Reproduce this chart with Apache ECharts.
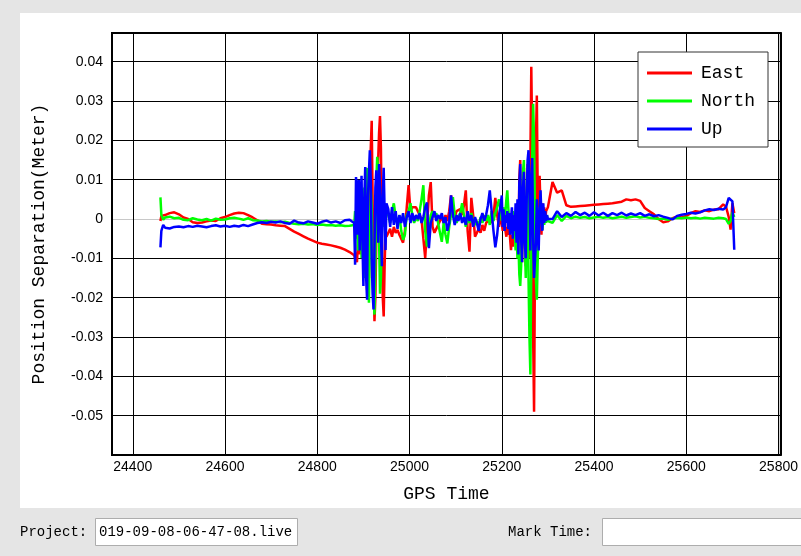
<!DOCTYPE html>
<html>
<head>
<meta charset="utf-8">
<script src="https://cdn.jsdelivr.net/npm/echarts@6/dist/echarts.min.js"></script>
<style>
html, body { margin: 0; padding: 0; background: #e5e5e5; }
#main { width: 801px; height: 556px; }
</style>
</head>
<body>
<div id="main"></div>
<script>
// GPS time of each sample (shared by the three components)
var gpsTime = [
  24460, 24462, 24466, 24470, 24480, 24490, 24500, 24510, 24520, 24530, 24540, 24550, 24560, 24570,
  24580, 24590, 24600, 24610, 24620, 24630, 24640, 24650, 24660, 24670,
  24680, 24690, 24700, 24710, 24720, 24730, 24740, 24750, 24760, 24770,
  24780, 24790, 24800, 24810, 24820, 24830, 24840, 24850, 24860, 24870,
  24880, 24882, 24884, 24886, 24888, 24890, 24892, 24894, 24896, 24898, 24900, 24902,
  24904, 24906, 24908, 24910, 24912, 24914, 24916, 24918, 24920, 24922, 24924, 24926,
  24928, 24930, 24932, 24934, 24936, 24938, 24940, 24942, 24944, 24946, 24948, 24950,
  24954, 24958, 24962, 24966, 24970, 24974, 24978, 24982, 24986, 24990, 24994, 24998,
  25002, 25006, 25010, 25014, 25018, 25022, 25026, 25030, 25034, 25038, 25042, 25046, 25050,
  25054, 25058, 25062, 25066, 25070, 25074, 25078, 25082, 25086, 25090, 25094, 25098,
  25102, 25106, 25110, 25114, 25118, 25122, 25126, 25130, 25134, 25138, 25142, 25146, 25150,
  25154, 25158, 25162, 25166, 25170, 25174, 25178, 25182, 25186, 25190, 25194, 25198,
  25200, 25202, 25204, 25206, 25208, 25210, 25212, 25214, 25216, 25218,
  25220, 25222, 25224, 25226, 25228, 25230, 25232, 25234, 25236, 25238,
  25240, 25242, 25244, 25246, 25248, 25250, 25252, 25254, 25256, 25258,
  25260, 25262, 25264, 25266, 25268, 25270, 25272, 25274, 25276, 25278,
  25280, 25282, 25284, 25286, 25288, 25290, 25292, 25294, 25296, 25298,
  25300,
  25310, 25320, 25330, 25340, 25350, 25360, 25370, 25380, 25390, 25400,
  25410, 25420, 25430, 25440, 25450, 25460, 25470, 25480, 25490, 25500,
  25510, 25520, 25530, 25540, 25550, 25560, 25570, 25580, 25590, 25600,
  25610, 25620, 25630, 25640, 25650, 25660, 25670, 25680,
  25686, 25692, 25696, 25700, 25704
];

var east = [
  -0.0005, 0.0008, 0.0012, 0.0010, 0.0015, 0.0017, 0.0012, 0.0004, 0.0000, -0.0008, -0.0010, -0.0009, -0.0006, -0.0004,
  -0.0005, 0.0002, 0.0005, 0.0010, 0.0014, 0.0016, 0.0015, 0.0010, 0.0004, -0.0003,
  -0.0012, -0.0013, -0.0014, -0.0016, -0.0017, -0.0018, -0.0025, -0.0032, -0.0038, -0.0044,
  -0.0050, -0.0055, -0.0060, -0.0063, -0.0065, -0.0067, -0.0070, -0.0073, -0.0078, -0.0084,
  -0.0092, -0.0100, -0.0085, -0.0110, -0.0070, -0.0040, -0.0090, 0.0020, -0.0060, 0.0060, -0.0080, 0.0050,
  -0.0120, 0.0080, -0.0180, 0.0100, -0.0150, 0.0120, 0.0180, 0.0250, 0.0050, -0.0150, -0.0260, -0.0200,
  -0.0050, 0.0080, 0.0150, 0.0220, 0.0262, 0.0180, -0.0050, -0.0200, -0.0248, -0.0120, -0.0030, -0.0045,
  -0.0035, -0.0025, -0.0045, -0.0020, -0.0035, -0.0028, -0.0040, -0.0050, -0.0060, -0.0030, 0.0030, 0.0086,
  0.0020, 0.0030, 0.0025, 0.0030, 0.0020, 0.0025, 0.0000, -0.0050, -0.0099, -0.0020, 0.0060, 0.0094, -0.0020,
  -0.0035, -0.0025, -0.0015, -0.0005, 0.0005, -0.0010, 0.0010, -0.0005, 0.0020, 0.0060, 0.0030, 0.0005,
  0.0020, 0.0015, 0.0025, 0.0010, 0.0035, 0.0073, -0.0030, -0.0083, 0.0054, 0.0010, -0.0045, -0.0040, -0.0025,
  -0.0035, -0.0015, -0.0030, -0.0010, -0.0005, 0.0000, -0.0010, 0.0010, 0.0054, 0.0010, -0.0020, 0.0015,
  0.0010, -0.0030, -0.0020, 0.0010, -0.0030, -0.0045, -0.0020, -0.0040, -0.0010, -0.0050,
  -0.0079, -0.0040, -0.0070, -0.0030, -0.0060, -0.0020, -0.0050, 0.0040, -0.0080, 0.0100,
  0.0150, -0.0060, -0.0110, 0.0050, 0.0130, -0.0050, -0.0120, 0.0020, 0.0140, 0.0080,
  -0.0100, 0.0150, 0.0387, 0.0200, -0.0300, -0.0490, -0.0100, 0.0200, 0.0314, 0.0050,
  -0.0050, 0.0110, 0.0030, -0.0040, 0.0040, 0.0010, 0.0030, -0.0010, 0.0020, 0.0015,
  0.0030,
  0.0094, 0.0067, 0.0073, 0.0035, 0.0031, 0.0032, 0.0033, 0.0034, 0.0035, 0.0036,
  0.0037, 0.0038, 0.0039, 0.0040, 0.0042, 0.0044, 0.0050, 0.0048, 0.0050, 0.0046,
  0.0028, 0.0020, 0.0012, 0.0000, -0.0008, -0.0006, 0.0002, 0.0006, 0.0004, 0.0008,
  0.0015, 0.0020, 0.0018, 0.0022, 0.0020, 0.0024, 0.0025, 0.0037,
  0.0032, 0.0005, -0.0027, 0.0040, 0.0015
];

var north = [
  0.0055, 0.0010, -0.0002, 0.0004, 0.0006, 0.0002, 0.0003, -0.0002, -0.0003, 0.0002, -0.0001, -0.0003, 0.0000, -0.0004,
  0.0001, -0.0002, -0.0001, 0.0002, 0.0003, 0.0001, -0.0002, 0.0002, -0.0003, -0.0004,
  -0.0006, -0.0005, -0.0007, -0.0006, -0.0008, -0.0007, -0.0010, -0.0012, -0.0013, -0.0012,
  -0.0014, -0.0013, -0.0015, -0.0014, -0.0016, -0.0015, -0.0017, -0.0016, -0.0018, -0.0017,
  -0.0015, 0.0020, -0.0050, 0.0040, -0.0080, 0.0060, -0.0030, 0.0070, -0.0100, 0.0050, -0.0120, 0.0080,
  -0.0150, 0.0100, 0.0130, -0.0100, -0.0213, -0.0050, 0.0080, 0.0030, -0.0150, -0.0200, -0.0243, -0.0100,
  0.0100, 0.0158, 0.0120, -0.0050, -0.0190, -0.0150, 0.0000, 0.0060, -0.0020, 0.0040, 0.0000, 0.0025,
  0.0010, -0.0010, 0.0020, 0.0040, 0.0005, -0.0015, 0.0010, -0.0030, -0.0053, -0.0040, 0.0010, 0.0020,
  0.0040, 0.0010, -0.0010, 0.0005, -0.0005, 0.0020, 0.0050, 0.0086, -0.0030, -0.0070, -0.0020, 0.0010, 0.0020,
  0.0005, 0.0015, -0.0010, -0.0035, -0.0058, -0.0010, -0.0040, -0.0062, -0.0020, 0.0010, 0.0056, 0.0010,
  -0.0010, 0.0005, 0.0015, 0.0040, 0.0010, -0.0020, 0.0005, -0.0010, 0.0015, -0.0005, -0.0015, -0.0005, -0.0020,
  0.0005, -0.0010, 0.0010, -0.0005, 0.0010, -0.0015, 0.0020, -0.0005, 0.0015, 0.0030, 0.0050, 0.0020,
  -0.0005, 0.0010, 0.0030, -0.0010, 0.0020, 0.0050, 0.0073, 0.0030, 0.0000, -0.0020,
  0.0010, -0.0030, 0.0020, -0.0050, -0.0020, -0.0080, -0.0040, -0.0100, -0.0060, -0.0140,
  -0.0170, -0.0120, 0.0040, 0.0120, 0.0150, -0.0060, -0.0150, 0.0020, 0.0100, -0.0150,
  -0.0300, -0.0395, -0.0100, 0.0150, 0.0293, 0.0200, 0.0000, -0.0150, -0.0205, -0.0100,
  -0.0020, 0.0030, -0.0010, 0.0020, -0.0028, 0.0010, -0.0015, 0.0005, -0.0010, 0.0010,
  -0.0005,
  -0.0010, 0.0010, -0.0005, 0.0008, 0.0002, 0.0006, 0.0003, 0.0005, 0.0002, 0.0004,
  0.0006, 0.0003, 0.0005, 0.0002, 0.0004, 0.0006, 0.0003, 0.0005, 0.0007, 0.0004,
  0.0006, 0.0003, 0.0002, 0.0000, 0.0001, -0.0002, 0.0001, 0.0003, 0.0002, 0.0004,
  0.0002, 0.0003, 0.0001, 0.0003, 0.0002, 0.0001, 0.0003, 0.0002,
  0.0000, -0.0012, -0.0005, 0.0017, 0.0005
];

var up = [
  -0.0072, -0.0030, -0.0015, -0.0022, -0.0024, -0.0020, -0.0019, -0.0021, -0.0018, -0.0020, -0.0017, -0.0019, -0.0021, -0.0018,
  -0.0016, -0.0019, -0.0017, -0.0020, -0.0017, -0.0019, -0.0015, -0.0018, -0.0014, -0.0010,
  -0.0008, -0.0010, -0.0007, -0.0009, -0.0006, -0.0010, -0.0012, -0.0004, -0.0009, -0.0011,
  -0.0006, -0.0009, -0.0012, -0.0007, -0.0004, -0.0009, -0.0006, -0.0010, -0.0003, -0.0002,
  -0.0010, -0.0116, 0.0107, 0.0060, -0.0040, 0.0100, -0.0080, 0.0040, 0.0110, -0.0060, -0.0170, 0.0050,
  0.0132, -0.0150, -0.0205, 0.0060, 0.0120, 0.0175, 0.0100, -0.0100, -0.0190, -0.0230, -0.0080, 0.0080,
  0.0124, 0.0050, -0.0060, 0.0140, 0.0080, -0.0040, -0.0120, 0.0060, 0.0130, 0.0020, -0.0079, 0.0040,
  0.0025, -0.0020, 0.0030, -0.0015, 0.0020, -0.0025, 0.0010, -0.0010, 0.0015, -0.0020, 0.0005, 0.0020,
  -0.0010, 0.0015, -0.0005, 0.0010, 0.0000, 0.0015, -0.0010, 0.0005, 0.0030, 0.0042, -0.0074, -0.0010, 0.0005,
  0.0020, -0.0005, 0.0010, 0.0000, 0.0015, -0.0010, 0.0005, -0.0030, -0.0010, 0.0060, 0.0010, -0.0015,
  0.0010, -0.0005, 0.0015, -0.0010, 0.0005, -0.0015, 0.0020, -0.0005, 0.0010, -0.0020, 0.0005, -0.0010, -0.0030,
  0.0000, 0.0015, -0.0005, 0.0010, 0.0035, 0.0073, 0.0020, -0.0030, -0.0072, -0.0040, 0.0010, 0.0040,
  0.0060, -0.0020, 0.0025, -0.0030, 0.0010, -0.0010, 0.0020, -0.0025, 0.0015, -0.0040,
  0.0000, 0.0030, -0.0050, 0.0010, -0.0030, 0.0040, -0.0060, 0.0050, -0.0090, 0.0090,
  0.0140, -0.0050, -0.0110, 0.0080, 0.0120, -0.0060, -0.0100, 0.0050, 0.0150, 0.0175,
  0.0060, -0.0080, 0.0100, 0.0155, -0.0050, -0.0150, -0.0155, -0.0060, 0.0050, -0.0040,
  -0.0080, 0.0020, 0.0073, 0.0010, -0.0030, 0.0040, -0.0010, 0.0020, -0.0005, 0.0010,
  0.0000,
  0.0000, 0.0020, 0.0005, 0.0015, 0.0008, 0.0018, 0.0010, 0.0016, 0.0008, 0.0017,
  0.0009, 0.0016, 0.0008, 0.0015, 0.0010, 0.0016, 0.0009, 0.0014, 0.0010, 0.0015,
  0.0008, 0.0012, 0.0007, 0.0010, 0.0006, 0.0003, -0.0001, 0.0008, 0.0011, 0.0013,
  0.0016, 0.0014, 0.0017, 0.0022, 0.0025, 0.0023, 0.0026, 0.0024,
  0.0030, 0.0054, 0.0050, 0.0045, -0.0078
];

var seriesNames = ['East', 'North', 'Up'];
var seriesColors = ['#ff0000', '#00ff00', '#0000ff'];
var projectName = '019-09-08-06-47-08.live';

var monoFont = 'Liberation Mono';
var tickFont = 'Liberation Sans';

function pairs(vals) {
  return gpsTime.map(function (t, i) { return [t, vals[i]]; });
}

// y split lines counted from -0.06: the zero line (7th) is light grey
var ySplitColors = ['#000', '#000', '#000', '#000', '#000', '#000', '#c8c8c8', '#000', '#000', '#000', '#000', '#000'];

var chart = echarts.init(document.getElementById('main'));

chart.setOption({
  animation: false,
  backgroundColor: '#e5e5e5',
  graphic: [
    { type: 'rect', z: -10, shape: { x: 20, y: 13, width: 781, height: 495 }, style: { fill: '#ffffff' } },
    { type: 'text', left: 20, top: 525, style: { text: 'Project:', font: '14px ' + monoFont, fill: '#000' } },
    { type: 'rect', shape: { x: 95.5, y: 518.5, width: 202, height: 27 }, style: { fill: '#fff', stroke: '#adadad', lineWidth: 1 } },
    { type: 'text', left: 99, top: 525, style: { text: projectName, font: '14px ' + monoFont, fill: '#000' } },
    { type: 'text', left: 508, top: 525, style: { text: 'Mark Time:', font: '14px ' + monoFont, fill: '#000' } },
    { type: 'rect', shape: { x: 602.5, y: 518.5, width: 210, height: 27 }, style: { fill: '#fff', stroke: '#adadad', lineWidth: 1 } }
  ],
  grid: {
    left: 112, top: 33, right: 18, bottom: 101,
    show: true, backgroundColor: '#fff', borderColor: '#000', borderWidth: 2
  },
  legend: {
    orient: 'vertical',
    left: 638, top: 52,
    padding: [12, 13, 9, 9],
    icon: 'rect',
    itemWidth: 45, itemHeight: 3, itemGap: 10,
    backgroundColor: '#fff', borderColor: '#333', borderWidth: 1,
    data: seriesNames,
    textStyle: { fontFamily: monoFont, fontSize: 18, color: '#000', padding: [0, 0, 0, 4] }
  },
  xAxis: {
    type: 'value',
    min: 24355, max: 25805,
    minInterval: 200, maxInterval: 200,
    name: 'GPS Time', nameLocation: 'middle', nameGap: 30,
    nameTextStyle: { fontFamily: monoFont, fontSize: 18, color: '#000' },
    axisLine: { show: false },
    axisTick: { show: false },
    axisLabel: {
      fontFamily: tickFont, fontSize: 14, color: '#000', margin: 5,
      formatter: function (v) {
        var k = v / 200;
        return Math.abs(k - Math.round(k)) < 1e-6 ? String(Math.round(v)) : '';
      }
    },
    splitLine: { show: true, lineStyle: { color: '#000', width: 1 } }
  },
  yAxis: {
    type: 'value',
    min: -0.06, max: 0.0473, interval: 0.01,
    name: 'Position Separation(Meter)', nameLocation: 'middle', nameGap: 64,
    nameTextStyle: { fontFamily: monoFont, fontSize: 18, color: '#000' },
    axisLine: { show: false },
    axisTick: { show: false },
    axisLabel: {
      fontFamily: tickFont, fontSize: 14, color: '#000', margin: 9,
      formatter: function (v) {
        var k = Math.round(v * 100);
        if (Math.abs(v * 100 - k) > 1e-6 || k <= -6) return '';
        return k === 0 ? '0' : (k / 100).toFixed(2);
      }
    },
    splitLine: { show: true, lineStyle: { color: ySplitColors, width: 1 } }
  },
  series: [east, north, up].map(function (vals, i) {
    return {
      name: seriesNames[i],
      type: 'line',
      data: pairs(vals),
      symbol: 'none',
      lineStyle: { color: seriesColors[i], width: 2.5 },
      itemStyle: { color: seriesColors[i] }
    };
  })
});
</script>
</body>
</html>
